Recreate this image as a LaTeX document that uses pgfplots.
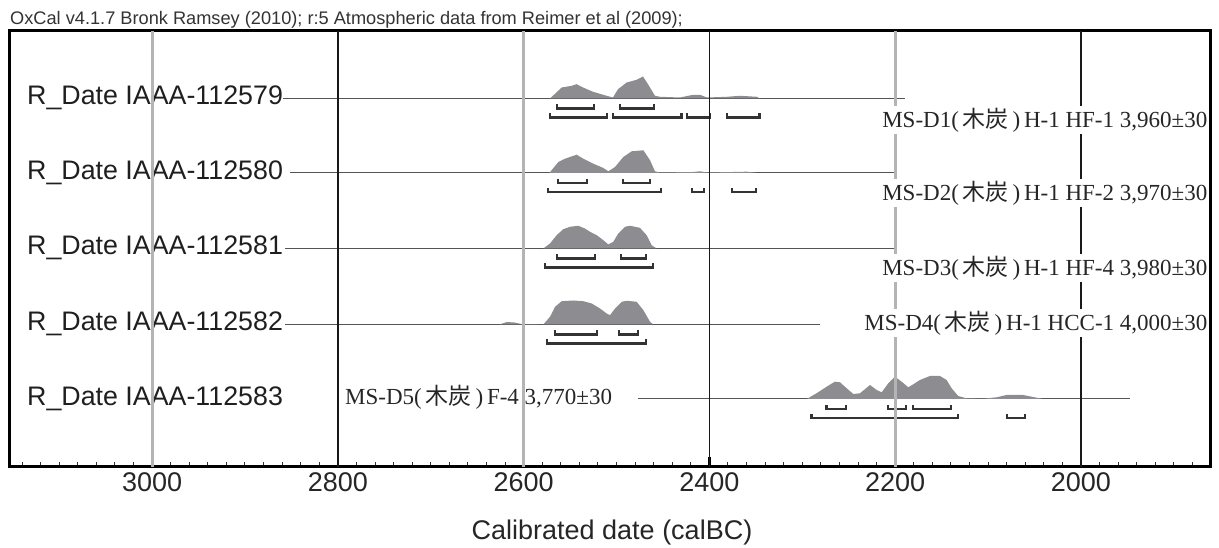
\documentclass[border=0pt]{standalone}
\usepackage{fontspec}
\setmainfont{Liberation Sans}
\newfontfamily\serifjp{Liberation Serif}
\newfontfamily\cjk{Noto Sans CJK JP}
\usepackage{pgfplots}
\usepackage{pgfplotstable}
\pgfplotsset{compat=1.18}
\definecolor{distgray}{HTML}{8C8C91}
\definecolor{gridgray}{HTML}{B4B4B4}
\definecolor{brk}{HTML}{333333}
\definecolor{basel}{HTML}{555555}

\pgfplotstableread{
yr h
2571.6 0
2559.0 11
2548.2 12.7
2542.9 14.3
2536.1 11
2525.3 6.7
2510.6 2.7
2503.8 1
2498.4 9.3
2489.0 16
2478.3 18.7
2471.5 22
2466.1 14.3
2458.6 2.7
2453.2 1.7
2431.6 1
2417.7 3.7
2410.1 3.7
2402.6 1
2381.1 1.7
2367.1 2.7
2348.8 1.7
2345.5 0
}\distA

\pgfplotstableread{
yr h
2572.3 0
2562.6 11
2555.4 14.3
2550.1 16
2542.9 18.3
2535.8 14.3
2525.0 9.3
2514.2 5
2508.8 1.7
2501.6 6
2492.7 16
2483.6 21.7
2471.1 22.7
2463.9 12.7
2458.6 1.7
2453.2 0.5
2417.3 1
2410.1 1.7
2402.9 0.5
2374.3 1
2359.9 1.3
2349.1 0
}\distB

\pgfplotstableread{
yr h
2578.8 0
2571.6 5
2564.4 13.3
2557.3 19.3
2550.1 21.7
2541.2 22.7
2534.0 20
2528.5 16.7
2521.3 13.3
2514.2 8.3
2508.8 4
2503.5 6.7
2498.1 15
2490.9 21.7
2485.5 22.7
2474.8 20.7
2467.6 13.3
2462.2 3.3
2456.8 0
}\distC

\pgfplotstableread{
yr h
2626 0
2618 2.5
2610 2
2602 0.4
2580 0.2
2578.8 0
2571.6 7.7
2566.2 17.7
2559.0 23.3
2546.6 24
2535.8 23.3
2526.7 21
2517.8 16
2510.6 11
2507.0 9.3
2501.6 16
2494.4 22.7
2489.0 23.7
2478.3 22.7
2471.1 14.3
2463.9 2.7
2460.3 0
}\distD

\pgfplotstableread{
yr h
2295.3 0
2284.6 5.7
2273.8 12.3
2264.9 17.3
2259.4 16.7
2252.2 10.7
2245.1 5
2237.9 5.7
2227.1 14
2219.9 9
2214.5 6.7
2207.4 15.7
2200.2 22.3
2193.0 17.3
2185.9 11.7
2180.5 14.7
2173.3 19
2162.5 23
2151.8 23
2144.6 19
2139.2 10.7
2132.1 3
2123.1 0.7
2105.2 0.3
2090.8 1.7
2080.0 4
2062.2 4
2051.4 2
2040.6 0
}\distE

\begin{document}
\begin{tikzpicture}[x=1pt,y=1pt]
\path[use as bounding box] (0,0) rectangle (1219,548);
% row labels (under grid lines)
\begin{scope}[every node/.style={anchor=base west, inner sep=0pt, text=black!88, font=\fontsize{26.8}{26.8}\selectfont}]
\node at (27,443) {R\_Date IAAA-112579};
\node at (27,368.5) {R\_Date IAAA-112580};
\node at (27,293) {R\_Date IAAA-112581};
\node at (27,217) {R\_Date IAAA-112582};
\node at (27,142) {R\_Date IAAA-112583};
\end{scope}
\begin{scope}[shift={(10,81)}]
\begin{axis}[
  at={(0,0)}, anchor=south west,
  scale only axis, width=1201pt, height=436pt,
  xmin=1860, xmax=3153, ymin=0, ymax=436,
  x dir=reverse,
  axis line style={line width=3pt, black},
  xtick={2000,2200,2400,2600,2800,3000},
  xticklabels={2000,2200,2400,2600,2800,3000},
  minor xtick={1880,1900,...,3140},
  ytick=\empty,
  xtick pos=left,
  major tick length=10pt, minor tick length=5pt,
  major tick style={line width=2.5pt, black},
  minor tick style={line width=1pt, brk},
  xticklabel style={font=\fontsize{27}{27}\selectfont, text=black!85, inner sep=0pt, yshift=-5pt},
  unbounded coords=jump,
]
% baselines
\addplot[basel, line width=1pt] coordinates {(2859,368.5) (2189.5,368.5)};
\addplot[basel, line width=1pt] coordinates {(2851.5,294) (2198,294)};
\addplot[basel, line width=1pt] coordinates {(2857,218.5) (2198,218.5)};
\addplot[basel, line width=1pt] coordinates {(2857,142.5) (2281,142.5)};
\addplot[basel, line width=1pt] coordinates {(2477,68) (1947,68)};
% distributions
\addplot[fill=distgray, draw=none] table[x=yr, y expr=\thisrow{h}+368.5] {\distA};
\addplot[fill=distgray, draw=none] table[x=yr, y expr=\thisrow{h}+294] {\distB};
\addplot[fill=distgray, draw=none] table[x=yr, y expr=\thisrow{h}+218.5] {\distC};
\addplot[fill=distgray, draw=none] table[x=yr, y expr=\thisrow{h}+142.5] {\distD};
\addplot[fill=distgray, draw=none] table[x=yr, y expr=\thisrow{h}+68] {\distE};
% brackets 68.2% and 95.4%
\addplot[brk, line width=2.2pt] coordinates {
 (2564,362.5) (2564,358.5) (2524,358.5) (2524,362.5) (2524,nan)
 (2496,362.5) (2496,358.5) (2460,358.5) (2460,362.5) (2460,nan)
 (2572,353.5) (2572,349.5) (2510,349.5) (2510,353.5) (2510,nan)
 (2504,353.5) (2504,349.5) (2430,349.5) (2430,353.5) (2430,nan)
 (2424,353.5) (2424,349.5) (2399,349.5) (2399,353.5) (2399,nan)
 (2381,353.5) (2381,349.5) (2346,349.5) (2346,353.5)
};
\addplot[brk, line width=2.2pt] coordinates {
 (2563,288) (2563,284) (2532,284) (2532,288) (2532,nan)
 (2493,288) (2493,284) (2464,284) (2464,288) (2464,nan)
 (2574,279) (2574,275) (2452,275) (2452,279) (2452,nan)
 (2419,279) (2419,275) (2406,275) (2406,279) (2406,nan)
 (2376,279) (2376,275) (2350,275) (2350,279)
};
\addplot[brk, line width=2.2pt] coordinates {
 (2564,212.5) (2564,208.5) (2523,208.5) (2523,212.5) (2523,nan)
 (2495,212.5) (2495,208.5) (2468,208.5) (2468,212.5) (2468,nan)
 (2577,203.5) (2577,199.5) (2461,199.5) (2461,203.5)
};
\addplot[brk, line width=2.2pt] coordinates {
 (2566,136.5) (2566,132.5) (2521,132.5) (2521,136.5) (2521,nan)
 (2497,136.5) (2497,132.5) (2477,132.5) (2477,136.5) (2477,nan)
 (2575,127.5) (2575,123.5) (2468,123.5) (2468,127.5)
};
\addplot[brk, line width=2.2pt] coordinates {
 (2274,62) (2274,58) (2253,58) (2253,62) (2253,nan)
 (2208,62) (2208,58) (2188,58) (2188,62) (2188,nan)
 (2181,62) (2181,58) (2140,58) (2140,62) (2140,nan)
 (2290,53) (2290,49) (2132,49) (2132,53) (2132,nan)
 (2080,53) (2080,49) (2060,49) (2060,53)
};
% grid lines
\addplot[gridgray, line width=3pt] coordinates {(3000,0) (3000,436) (3000,nan) (2600,0) (2600,436) (2600,nan) (2200,0) (2200,436)};
\addplot[black!90, line width=1.3pt] coordinates {(2800,0) (2800,436) (2800,nan) (2400,0) (2400,436) (2400,nan) (2000,0) (2000,436)};
\end{axis}
\end{scope}
% MS labels
\begin{scope}[every node/.style={fill=white, inner xsep=1pt, inner ysep=1.5pt, text=black!85, font=\fontsize{23}{23}\serifjp}]
\node[anchor=east] at (1208.5,428) {MS-D1(\,{\cjk 木炭}\,)\,H-1 HF-1 3,960±30};
\node[anchor=east] at (1208.5,355) {MS-D2(\,{\cjk 木炭}\,)\,H-1 HF-2 3,970±30};
\node[anchor=east] at (1208.5,280) {MS-D3(\,{\cjk 木炭}\,)\,H-1 HF-4 3,980±30};
\node[anchor=east] at (1208.5,225) {MS-D4(\,{\cjk 木炭}\,)\,H-1 HCC-1 4,000±30};
\node[anchor=west, fill=none] at (344,151) {MS-D5(\,{\cjk 木炭}\,)\,F-4 3,770±30};
\end{scope}
% title and x label
\node[anchor=base west, inner sep=0pt, text=black!80, font=\fontsize{18.2}{18.2}\selectfont] at (10,523) {OxCal v4.1.7 Bronk Ramsey (2010); r:5 Atmospheric data from Reimer et al (2009);};
\node[anchor=base, inner sep=0pt, text=black!85, font=\fontsize{27}{27}\selectfont] at (612,8) {Calibrated date (calBC)};
\end{tikzpicture}
\end{document}
